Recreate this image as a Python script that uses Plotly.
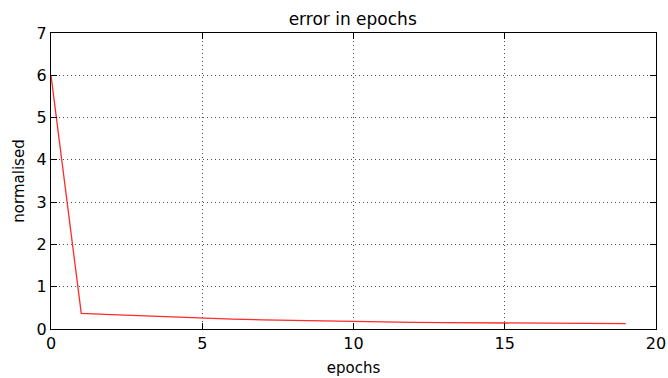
import plotly.graph_objects as go

# training error per epoch
epochs = list(range(20))
error = [6.0, 0.37, 0.34, 0.31, 0.28, 0.255, 0.235, 0.215, 0.20, 0.185,
         0.175, 0.165, 0.158, 0.152, 0.146, 0.141, 0.137, 0.133, 0.129, 0.125]

x_ticks = [0, 5, 10, 15, 20]
y_ticks = [0, 1, 2, 3, 4, 5, 6, 7]

font = "DejaVu Sans"

fig = go.Figure()
fig.add_trace(go.Scatter(x=epochs, y=error, mode="lines",
                         line=dict(color="#ff2a2a", width=1.3),
                         showlegend=False))

axis_common = dict(
    showline=True, linecolor="black", linewidth=1, mirror="allticks",
    ticks="inside", ticklen=6, tickcolor="black", tickwidth=1,
    showgrid=True, gridcolor="rgba(0,0,0,0.7)", griddash="1px,3px", gridwidth=1,
    zeroline=False, automargin=False,
    tickfont=dict(family=font, size=16, color="black"),
)

fig.update_xaxes(range=[0, 20], tickvals=x_ticks,
                 title=dict(text="epochs", font=dict(family=font, size=15, color="black"), standoff=10),
                 **axis_common)
fig.update_yaxes(range=[0, 7], tickvals=y_ticks,
                 title=dict(text="normalised", font=dict(family=font, size=15, color="black"), standoff=8),
                 **axis_common)

fig.update_layout(
    width=668, height=378,
    margin=dict(l=51, r=12, t=33, b=49),
    paper_bgcolor="white", plot_bgcolor="white",
    title=dict(text="error in epochs", x=0.528, xanchor="center", y=0.95, yanchor="middle",
               font=dict(family=font, size=17, color="black")),
)

fig.write_html("out.html")
